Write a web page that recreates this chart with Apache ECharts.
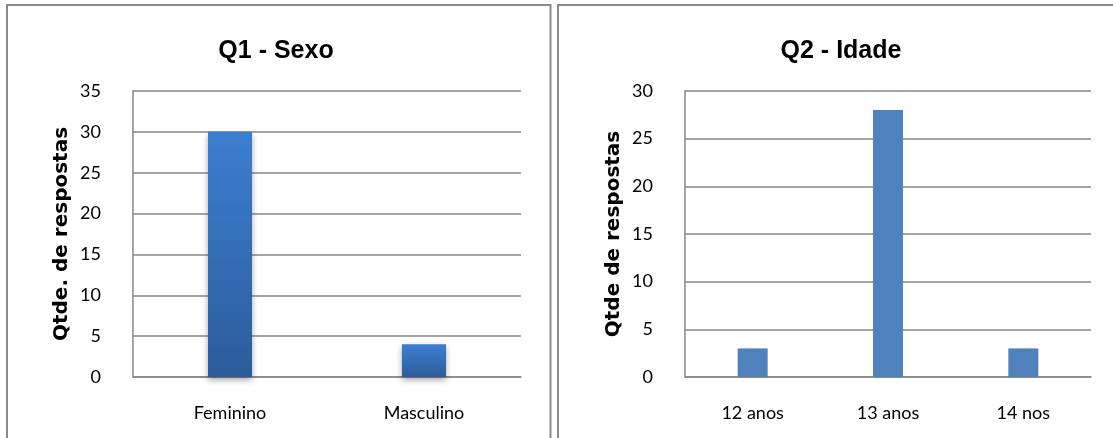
<!DOCTYPE html>
<html>
<head>
<meta charset="utf-8">
<script src="https://cdn.jsdelivr.net/npm/echarts@6/dist/echarts.min.js"></script>
<style>
  html, body { margin: 0; padding: 0; background: #fff; }
  #chart { width: 1113px; height: 438px; }
</style>
</head>
<body>
<div id="chart"></div>
<script>
// Q1 – respondents by sex
const sexCategories = ['Feminino', 'Masculino'];
const sexValues = [30, 4];
const sexTicks = { min: 0, max: 35, interval: 5 };

// Q2 – respondents by age
const ageCategories = ['12 anos', '13 anos', '14 nos'];
const ageValues = [3, 28, 3];
const ageTicks = { min: 0, max: 30, interval: 5 };

const labelFont = 'Lato, "Open Sans", sans-serif';
const nameFont = '"DejaVu Sans", sans-serif';
const titleFont = '"Liberation Sans", Arial, sans-serif';
const gridGray = '#878787';

const chart = echarts.init(document.getElementById('chart'), null, { renderer: 'canvas' });

function yAxis(gridIndex, ticks, name) {
  return {
    type: 'value', gridIndex,
    min: ticks.min, max: ticks.max, interval: ticks.interval,
    name, nameLocation: 'middle', nameGap: 61,
    nameTextStyle: { fontFamily: nameFont, fontWeight: 'bold', fontSize: 20, color: '#000' },
    axisLine: { show: true, lineStyle: { color: gridGray, width: 1.5 } },
    axisTick: { show: false },
    axisLabel: { fontFamily: labelFont, fontSize: 18, color: '#000', margin: 32 },
    splitLine: { lineStyle: { color: gridGray, width: 1.5 } }
  };
}

function xAxis(gridIndex, cats) {
  return {
    type: 'category', gridIndex, data: cats,
    axisLine: { lineStyle: { color: gridGray, width: 1.5 } },
    axisTick: { show: false },
    axisLabel: { fontFamily: labelFont, fontSize: 18, color: '#000', margin: 27 }
  };
}

chart.setOption({
  animation: false,
  backgroundColor: '#fff',
  title: [
    { text: 'Q1 - Sexo', left: 271, top: 34, textAlign: 'center',
      textStyle: { fontFamily: titleFont, fontWeight: 'bold', fontSize: 25, color: '#000' } },
    { text: 'Q2 - Idade', left: 836, top: 34, textAlign: 'center',
      textStyle: { fontFamily: titleFont, fontWeight: 'bold', fontSize: 25, color: '#000' } }
  ],
  grid: [
    { left: 133, right: 592, top: 91, bottom: 61 },
    { left: 685, right: 22, top: 91, bottom: 61 }
  ],
  xAxis: [xAxis(0, sexCategories), xAxis(1, ageCategories)],
  yAxis: [yAxis(0, sexTicks, 'Qtde. de respostas'), yAxis(1, ageTicks, 'Qtde de respostas')],
  series: [
    {
      type: 'bar', xAxisIndex: 0, yAxisIndex: 0, data: sexValues,
      barWidth: 44,
      itemStyle: {
        color: new echarts.graphic.LinearGradient(0, 0, 0, 1, [
          { offset: 0, color: '#3c7ed0' },
          { offset: 1, color: '#2c5c9b' }
        ]),
        shadowColor: 'rgba(0,0,0,0.35)', shadowBlur: 6, shadowOffsetY: 3
      }
    },
    {
      type: 'bar', xAxisIndex: 1, yAxisIndex: 1, data: ageValues,
      barWidth: 30,
      itemStyle: { color: '#4f81bd' }
    }
  ],
  graphic: [
    { type: 'rect', shape: { x: 7, y: 5, width: 543.5, height: 450 },
      style: { fill: 'none', stroke: '#8a8a8a', lineWidth: 2 }, silent: true },
    { type: 'rect', shape: { x: 558, y: 5, width: 570, height: 450 },
      style: { fill: 'none', stroke: '#8a8a8a', lineWidth: 2 }, silent: true }
  ]
});
</script>
</body>
</html>
